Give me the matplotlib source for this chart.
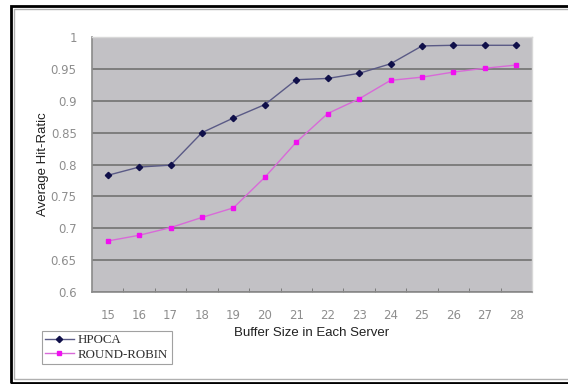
import matplotlib
matplotlib.use("Agg")
import matplotlib.pyplot as plt
from matplotlib.patches import Rectangle
import numpy as np

buffer_sizes = [15, 16, 17, 18, 19, 20, 21, 22, 23, 24, 25, 26, 27, 28]
hpoca = [0.783, 0.796, 0.799, 0.850, 0.873, 0.894, 0.933, 0.935,
         0.943, 0.958, 0.986, 0.987, 0.987, 0.987]
round_robin = [0.680, 0.689, 0.701, 0.717, 0.732, 0.780, 0.835, 0.880,
               0.903, 0.932, 0.937, 0.945, 0.951, 0.956]
y_ticks = [0.6, 0.65, 0.7, 0.75, 0.8, 0.85, 0.9, 0.95, 1.0]

fig = plt.figure(figsize=(5.68, 3.84), dpi=100)
fig.patch.set_facecolor("white")

# outer chart frame (double line like the Excel chart border)
fig.patches.append(Rectangle((10.5 / 568, 1.5 / 384), 1.2, 1 - 7 / 384,
                             transform=fig.transFigure, fill=False,
                             edgecolor="black", linewidth=2.0))
fig.patches.append(Rectangle((13.5 / 568, 5 / 384), 1.2, 1 - 13.5 / 384,
                             transform=fig.transFigure, fill=False,
                             edgecolor="#b0b0b0", linewidth=1.0))

ax = fig.add_axes([92 / 568, 1 - 292 / 384, 440 / 568, 255 / 384])
ax.set_facecolor("#c2c1c5")

x = np.arange(len(buffer_sizes))
ax.plot(x, hpoca, color="#5a5a86", linewidth=1.0, marker="D",
        markersize=3.2, markerfacecolor="#10104a", markeredgecolor="#10104a",
        label="HPOCA", zorder=3)
ax.plot(x, round_robin, color="#d86ad8", linewidth=1.0, marker="s",
        markersize=3.2, markerfacecolor="#f010f0", markeredgecolor="#f010f0",
        label="ROUND-ROBIN", zorder=3)

ax.set_xlim(-0.5, len(buffer_sizes) - 0.5)
ax.set_ylim(0.6, 1.0)
ax.set_yticks(y_ticks)
ax.set_yticklabels(["0.6", "0.65", "0.7", "0.75", "0.8", "0.85", "0.9", "0.95", "1"])
ax.set_xticks(x)
ax.set_xticklabels([str(b) for b in buffer_sizes])
ax.set_xticks(np.arange(0.5, len(buffer_sizes) - 0.5), minor=True)

ax.yaxis.grid(True, color="#727272", linewidth=1.2)
ax.set_axisbelow(True)

for s in ["top", "right"]:
    ax.spines[s].set_color("#d8d8d8")
    ax.spines[s].set_linewidth(1.0)
for s in ["left", "bottom"]:
    ax.spines[s].set_color("#8a8a8a")
    ax.spines[s].set_linewidth(1.2)

ax.tick_params(axis="x", which="major", length=0, pad=12,
               labelsize=8.5, labelcolor="#8e8e8e")
ax.tick_params(axis="x", which="minor", length=3, direction="in",
               color="#707070")
ax.tick_params(axis="y", length=0, pad=11, labelsize=8.5,
               labelcolor="#8e8e8e")

ax.set_xlabel("Buffer Size in Each Server", fontsize=9.5, color="#202020",
              family="Liberation Sans", labelpad=4)
ax.set_ylabel("Average Hit-Ratic", fontsize=9.5, color="#202020",
              family="Liberation Sans", labelpad=1)

leg = ax.legend(loc="lower left", bbox_to_anchor=(42 / 568, 1 - 364 / 384,
                                                  130 / 568, 37 / 384),
                bbox_transform=fig.transFigure, mode="expand",
                prop={"family": "Liberation Serif", "size": 9.3},
                frameon=True, fancybox=False, borderaxespad=0,
                handlelength=2.2, handletextpad=0.3, labelspacing=0.2,
                borderpad=0.25)
leg.get_frame().set_edgecolor("#8a8a8a")
leg.get_frame().set_linewidth(0.8)
for t in leg.get_texts():
    t.set_color("#303030")

fig.savefig("out.png", dpi=100)
